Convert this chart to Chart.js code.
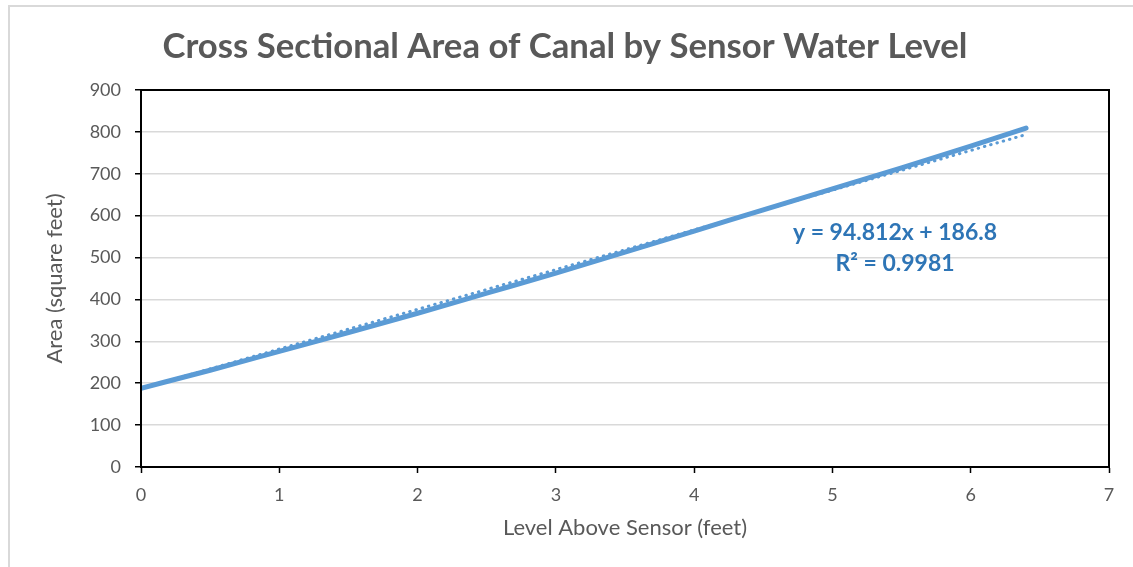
<!DOCTYPE html>
<html>
<head>
<meta charset="utf-8">
<title>Cross Sectional Area of Canal</title>
<script src="https://cdn.jsdelivr.net/npm/chart.js@4/dist/chart.umd.min.js"></script>
<style>
  html, body { margin: 0; padding: 0; background: #fff; }
  #wrap { position: relative; width: 1133px; height: 567px; }
</style>
</head>
<body>
<div id="wrap"><canvas id="areaChart" width="1133" height="567"></canvas></div>
<script>
// --- DATA ---
// water level above the sensor (feet) and the matching cross sectional area (sq ft)
const levels = [0, 0.5, 1, 1.5, 2, 2.5, 3, 3.5, 4, 4.5, 5, 5.5, 6, 6.4];
const areas  = [188, 231, 276, 321, 367, 415, 463, 513, 563, 614, 664, 714, 766, 809];

// linear trendline as reported on the chart
const TREND_SLOPE = 94.812;
const TREND_INTERCEPT = 186.8;
const TREND_R2 = 0.9981;

const xTicks = [0, 1, 2, 3, 4, 5, 6, 7];
const yTicks = [0, 100, 200, 300, 400, 500, 600, 700, 800, 900];

const TITLE = 'Cross Sectional Area of Canal by Sensor Water Level';
const X_TITLE = 'Level Above Sensor (feet)';
const Y_TITLE = 'Area (square feet)';

const LINE_BLUE = '#5b9bd5';
const LABEL_BLUE = '#2e75b6';
const TEXT_GREY = '#595959';
const FONT = 'Lato, "Open Sans", sans-serif';

// --- BUILD SERIES ---
const mainPts = levels.map((x, i) => ({ x: x, y: areas[i] }));
const xMin = levels[0], xMax = levels[levels.length - 1];
const trendPts = [xMin, xMax].map(x => ({ x: x, y: TREND_SLOPE * x + TREND_INTERCEPT }));

// frame, plot border, title and trendline label
const decor = {
  id: 'decor',
  beforeDraw(chart) {
    const c = chart.ctx;
    c.save();
    c.strokeStyle = '#d9d9d9';
    c.lineWidth = 2;
    c.strokeRect(9, 6, 2000, 2000);
    c.restore();
  },
  afterDatasetsDraw(chart) {
    const c = chart.ctx, a = chart.chartArea;
    c.save();
    c.strokeStyle = '#000';
    c.lineWidth = 2;
    c.strokeRect(a.left, a.top, a.right - a.left, a.bottom - a.top);
    c.restore();
  },
  afterDraw(chart) {
    const c = chart.ctx;
    c.save();
    c.textAlign = 'center';
    c.textBaseline = 'middle';
    c.fillStyle = TEXT_GREY;
    c.font = 'bold 34.7px ' + FONT;
    c.fillText(TITLE, 565, 47);

    c.fillStyle = LABEL_BLUE;
    c.font = 'bold 23px ' + FONT;
    c.fillText('y = ' + TREND_SLOPE + 'x + ' + TREND_INTERCEPT, 895, 233);
    c.fillText('R² = ' + TREND_R2, 895, 264);
    c.restore();
  }
};

new Chart(document.getElementById('areaChart'), {
  type: 'scatter',
  data: {
    datasets: [
      {
        label: 'Linear (Area)',
        data: trendPts,
        showLine: true,
        borderColor: LINE_BLUE,
        borderWidth: 3,
        borderDash: [0.5, 6],
        borderCapStyle: 'round',
        pointRadius: 0
      },
      {
        label: 'Area',
        data: mainPts,
        showLine: true,
        borderColor: LINE_BLUE,
        borderWidth: 5,
        borderCapStyle: 'round',
        cubicInterpolationMode: 'monotone',
        pointRadius: 0
      }
    ]
  },
  options: {
    responsive: false,
    animation: false,
    layout: { padding: { top: 90, right: 24, bottom: 0, left: 0 } },
    plugins: {
      legend: { display: false },
      tooltip: { enabled: false }
    },
    scales: {
      x: {
        type: 'linear',
        min: xTicks[0],
        max: xTicks[xTicks.length - 1],
        afterBuildTicks: s => { s.ticks = xTicks.map(v => ({ value: v })); },
        afterFit: s => { s.height = 100; },
        grid: { drawOnChartArea: false, tickLength: 6, tickColor: '#000', tickWidth: 1.5 },
        border: { color: '#000', width: 2 },
        ticks: { color: TEXT_GREY, font: { family: FONT, size: 18 }, padding: 11 },
        title: {
          display: true, text: X_TITLE, color: TEXT_GREY,
          font: { family: FONT, size: 22 }, padding: { top: 0, bottom: 26 }
        }
      },
      y: {
        type: 'linear',
        min: yTicks[0],
        max: yTicks[yTicks.length - 1],
        afterBuildTicks: s => { s.ticks = yTicks.map(v => ({ value: v })); },
        afterFit: s => { s.width = 141; },
        grid: { color: '#d9d9d9', lineWidth: 1.5, tickLength: 6, tickColor: '#000', tickWidth: 1.5 },
        border: { color: '#000', width: 2 },
        ticks: { color: TEXT_GREY, font: { family: FONT, size: 18 }, padding: 14 },
        title: {
          display: true, text: Y_TITLE, color: TEXT_GREY,
          font: { family: FONT, size: 22 }, padding: { top: 42, bottom: 0 }
        }
      }
    }
  },
  plugins: [decor]
});
</script>
</body>
</html>
